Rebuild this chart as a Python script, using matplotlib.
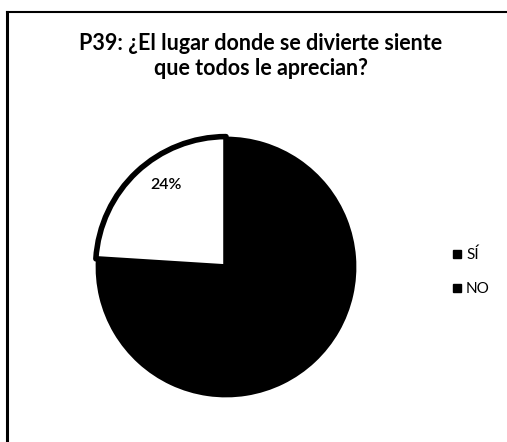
import matplotlib.pyplot as plt
from matplotlib.lines import Line2D
import numpy as np

labels = ["SÍ", "NO"]
values = [76, 24]
colors = ["black", "white"]
title = "P39: ¿El lugar donde se divierte siente\nque todos le aprecian?"

fig = plt.figure(figsize=(5.07, 4.42), dpi=100)
W, H = 507, 442

# pie axes: center ~(226,267) px, radius ~133 px
cx, cy, r = 226, 267, 133
ax = fig.add_axes([(cx - r) / W, (H - cy - r) / H, 2 * r / W, 2 * r / H])
wedges, texts = ax.pie(values, colors=colors, startangle=90, counterclock=False,
                       radius=1.0, wedgeprops=dict(linewidth=0))
# black rim on the white slice
wedges[1].set_edgecolor("black")
wedges[1].set_linewidth(4)
wedges[1].set_joinstyle("round")
ax.set_xlim(-1.02, 1.02)
ax.set_ylim(-1.02, 1.02)
ax.set_aspect("equal")
ax.axis("off")

# only the 24% label is visible
ang = np.deg2rad(90 + values[1] / 100 * 360 / 2 - 7)
ax.text(0.78 * np.cos(ang), 0.78 * np.sin(ang), f"{values[1]}%",
        ha="center", va="center", fontsize=11.5, family="Lato",
        fontweight="semibold", color="black")

fig.text(261 / W, 1 - 56 / H, title, ha="center", va="center",
         fontsize=15.5, fontweight="bold", family="Lato", linespacing=1.25)

# legend
handles = [Line2D([], [], marker="s", linestyle="none", color="black",
                  markersize=6) for _ in labels]
fig.legend(handles, labels, loc="upper left", bbox_to_anchor=(434 / W, 1 - 234 / H),
           frameon=False, prop=dict(family="Lato", size=11),
           handletextpad=0.0, labelspacing=1.3, handlelength=1.2)

# frame lines (top and left)
fig.add_artist(Line2D([7 / W, 1], [1 - 12 / H, 1 - 12 / H], color="black", lw=1.5))
fig.add_artist(Line2D([7 / W, 7 / W], [0, 1 - 12 / H], color="black", lw=2.2))

fig.savefig("out.png", dpi=100)
